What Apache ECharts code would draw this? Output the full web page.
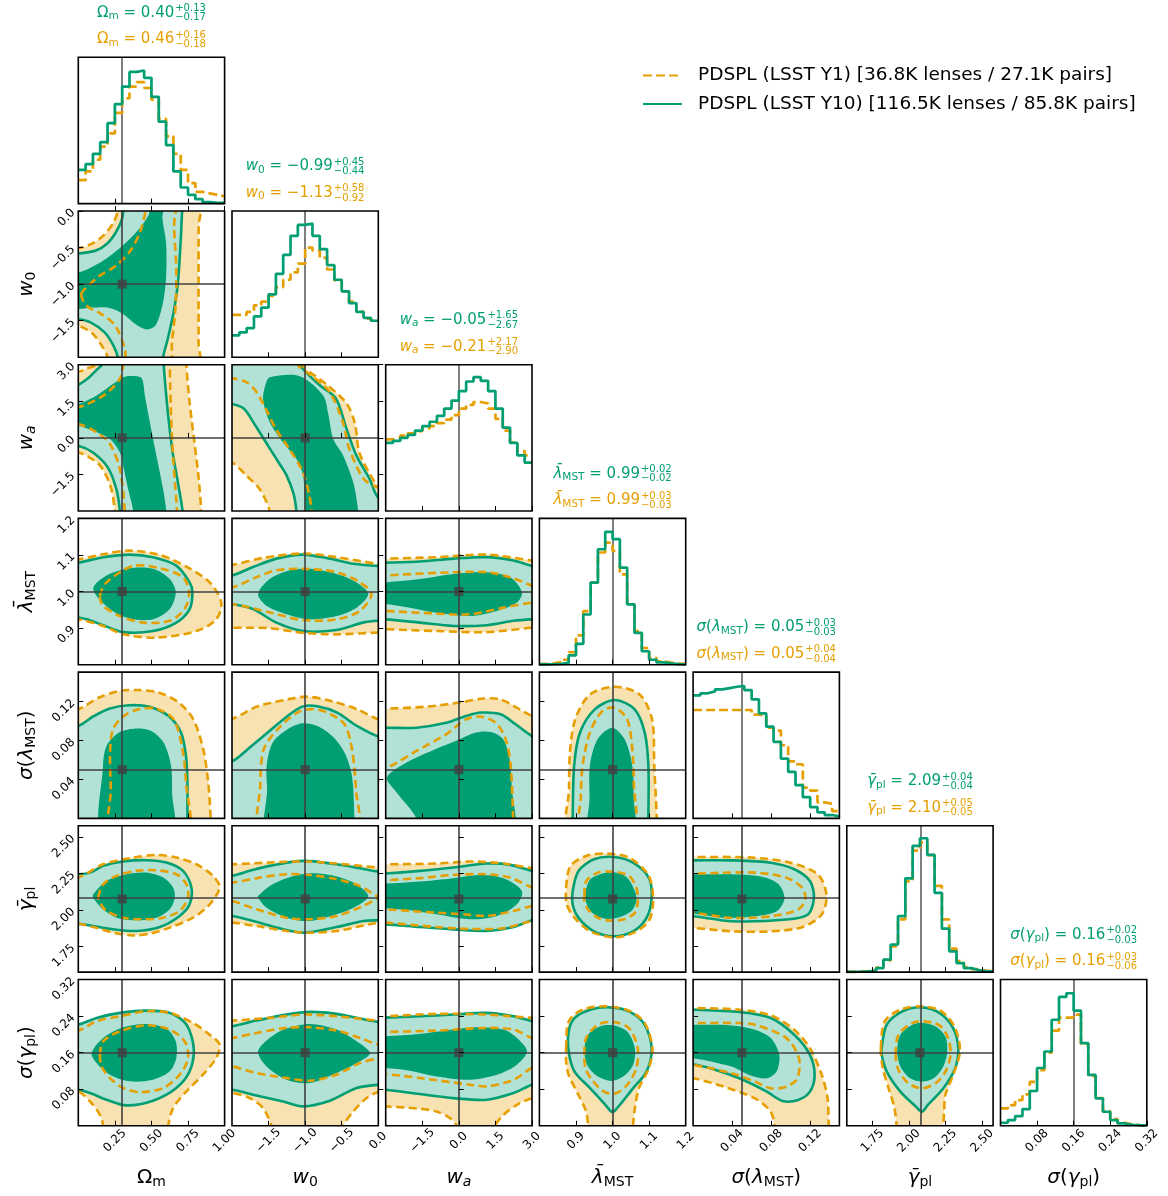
<!DOCTYPE html>
<html>
<head>
<meta charset="utf-8">
<script src="https://cdn.jsdelivr.net/npm/echarts@6/dist/echarts.min.js"></script>
<style>
  html, body { margin: 0; padding: 0; background: #fff; }
  #corner { width: 1168px; height: 1196px; }
</style>
</head>
<body>
<div id="corner"></div>
<script>
const FONT = '"DejaVu Sans", sans-serif';
const GREEN = '#009E73', ORANGE = '#E69F00';
const GREEN_LIGHT = '#B2E2D5', ORANGE_LIGHT = '#F8E2B2';
const TRUTH_COLOR = '#404040';
const LABEL_Y1 = 'PDSPL (LSST Y1) [36.8K lenses / 27.1K pairs]';
const LABEL_Y10 = 'PDSPL (LSST Y10) [116.5K lenses / 85.8K pairs]';

// parameters: Om, w0, wa, lambda_MST, sigma(lambda_MST), gamma_pl, sigma(gamma_pl)
const paramMin = [0, -2, -3, 0.8, 0, 1.575, 0];
const paramMax = [1, 0, 3, 1.2, 0.15, 2.575, 0.32];
const truthValues = [0.3, -1, 0, 1, 0.05, 2.075, 0.16];
const tickValues = [
  [0.25, 0.5, 0.75, 1.0],
  [-1.5, -1.0, -0.5, 0.0],
  [-1.5, 0, 1.5, 3.0],
  [0.9, 1.0, 1.1, 1.2],
  [0.04, 0.08, 0.12],
  [1.75, 2.0, 2.25, 2.5],
  [0.08, 0.16, 0.24, 0.32]
];
const tickDecimals = [2, 1, 1, 1, 2, 2, 2];
// label pieces: [text, style] ; n normal, i italic, s subscript, si italic subscript
const paramTokens = [
  [['Ω', 'n'], ['m', 's']],
  [['w', 'i'], ['0', 's']],
  [['w', 'i'], ['a', 'si']],
  [['λ\u0304', 'i'], ['MST', 's']],
  [['σ', 'i'], ['(', 'n'], ['λ', 'i'], ['MST', 's'], [')', 'n']],
  [['γ\u0304', 'i'], ['pl', 's']],
  [['σ', 'i'], ['(', 'n'], ['γ', 'i'], ['pl', 's'], [')', 'n']]
];
const titleY10 = [
  ['0.40', '+0.13', '−0.17'], ['−0.99', '+0.45', '−0.44'], ['−0.05', '+1.65', '−2.67'],
  ['0.99', '+0.02', '−0.02'], ['0.05', '+0.03', '−0.03'], ['2.09', '+0.04', '−0.04'],
  ['0.16', '+0.02', '−0.03']
];
const titleY1 = [
  ['0.46', '+0.16', '−0.18'], ['−1.13', '+0.58', '−0.92'], ['−0.21', '+2.17', '−2.90'],
  ['0.99', '+0.03', '−0.03'], ['0.05', '+0.04', '−0.04'], ['2.10', '+0.05', '−0.05'],
  ['0.16', '+0.03', '−0.06']
];

// 1D histograms (20 bins over the axis range), height as fraction of the panel
const histY10 = [
  [0.23, 0.27, 0.34, 0.42, 0.55, 0.68, 0.80, 0.90, 0.91, 0.86, 0.73, 0.56, 0.40, 0.22, 0.11, 0.06, 0.03, 0.01, 0.005, 0.005],
  [0.15, 0.17, 0.20, 0.28, 0.34, 0.43, 0.57, 0.70, 0.83, 0.905, 0.914, 0.83, 0.74, 0.63, 0.53, 0.45, 0.37, 0.31, 0.27, 0.25],
  [0.465, 0.48, 0.50, 0.52, 0.55, 0.58, 0.61, 0.65, 0.70, 0.755, 0.82, 0.885, 0.915, 0.89, 0.82, 0.70, 0.57, 0.465, 0.38, 0.33],
  [0.002, 0.003, 0.006, 0.012, 0.064, 0.142, 0.343, 0.561, 0.789, 0.908, 0.858, 0.664, 0.412, 0.217, 0.092, 0.034, 0.016, 0.009, 0.004, 0.002],
  [0.841, 0.855, 0.868, 0.882, 0.891, 0.90, 0.905, 0.877, 0.814, 0.718, 0.627, 0.523, 0.409, 0.318, 0.227, 0.145, 0.077, 0.041, 0.023, 0.014],
  [0.002, 0.003, 0.005, 0.009, 0.027, 0.085, 0.188, 0.382, 0.641, 0.863, 0.915, 0.801, 0.542, 0.297, 0.142, 0.062, 0.027, 0.014, 0.007, 0.004],
  [0.021, 0.039, 0.066, 0.114, 0.238, 0.395, 0.508, 0.725, 0.881, 0.906, 0.787, 0.565, 0.348, 0.188, 0.096, 0.039, 0.016, 0.007, 0.004, 0.002]
];
const histY1 = [
  [0.16, 0.22, 0.30, 0.39, 0.48, 0.62, 0.72, 0.80, 0.83, 0.79, 0.71, 0.58, 0.46, 0.34, 0.23, 0.14, 0.08, 0.07, 0.06, 0.05],
  [0.29, 0.29, 0.31, 0.355, 0.38, 0.42, 0.48, 0.53, 0.58, 0.64, 0.75, 0.73, 0.68, 0.60, 0.525, 0.45, 0.38, 0.31, 0.265, 0.25],
  [0.49, 0.50, 0.515, 0.53, 0.545, 0.565, 0.58, 0.60, 0.625, 0.655, 0.70, 0.725, 0.745, 0.735, 0.70, 0.63, 0.55, 0.47, 0.41, 0.38],
  [0.005, 0.009, 0.018, 0.034, 0.085, 0.20, 0.366, 0.561, 0.767, 0.835, 0.778, 0.618, 0.412, 0.229, 0.114, 0.046, 0.023, 0.014, 0.009, 0.005],
  [0.741, 0.741, 0.741, 0.741, 0.741, 0.741, 0.741, 0.741, 0.71, 0.70, 0.62, 0.60, 0.50, 0.39, 0.37, 0.21, 0.19, 0.11, 0.10, 0.05],
  [0.002, 0.004, 0.006, 0.012, 0.03, 0.08, 0.175, 0.36, 0.62, 0.83, 0.885, 0.80, 0.59, 0.36, 0.16, 0.075, 0.035, 0.02, 0.01, 0.006],
  [0.119, 0.142, 0.176, 0.215, 0.30, 0.38, 0.50, 0.65, 0.74, 0.74, 0.76, 0.56, 0.34, 0.19, 0.10, 0.045, 0.02, 0.01, 0.005, 0.003]
];

// 2D credible contours, in data units [x, y]
// g68/g95: Y10 68%/95%, o68/o95: Y1 68%/95%
const w0_Om = {
  o95: [[-0.1,-0.5],[0,-0.506],[0.1,-0.44],[0.18,-0.32],[0.24,-0.16],[0.27,0],[0.28,0.2],[0.83,0.2],[0.823,-0.2],[0.822,-1.0],[0.822,-1.8],[0.82,-2.2],[0.2,-2.2],[0.2,-2.0],[0.16,-1.84],[0.1,-1.68],[0.04,-1.6],[0,-1.57],[-0.1,-1.57]],
  g95: [[-0.1,-0.58],[0,-0.58],[0.12,-0.54],[0.2,-0.44],[0.26,-0.28],[0.30,-0.1],[0.31,0.1],[0.31,0.2],[0.72,0.2],[0.71,0],[0.70,-0.4],[0.68,-1.0],[0.65,-1.4],[0.61,-1.76],[0.58,-2.0],[0.58,-2.2],[0.27,-2.2],[0.27,-2.0],[0.24,-1.84],[0.18,-1.66],[0.08,-1.52],[0,-1.48],[-0.1,-1.48]],
  g68: [[-0.1,-0.8],[0,-0.84],[0.1,-0.76],[0.2,-0.64],[0.3,-0.48],[0.4,-0.28],[0.48,-0.06],[0.5,0.1],[0.58,0.1],[0.575,-0.1],[0.6,-0.44],[0.6,-0.9],[0.58,-1.24],[0.53,-1.56],[0.47,-1.62],[0.4,-1.56],[0.3,-1.4],[0.2,-1.32],[0.1,-1.32],[0,-1.34],[-0.1,-1.34]],
  o68: [[0.02,-1.14],[0.08,-1.0],[0.15,-0.88],[0.25,-0.76],[0.35,-0.56],[0.42,-0.3],[0.46,0],[0.47,0.2],[0.66,0.2],[0.655,-0.2],[0.67,-0.8],[0.665,-1.3],[0.64,-1.8],[0.62,-2.2],[0.33,-2.2],[0.32,-1.9],[0.25,-1.56],[0.15,-1.4],[0.06,-1.3]]
};
const wa_Om = {
  o95: [[-0.1,2.7],[0,2.7],[0.06,2.85],[0.12,3.0],[0.13,3.6],[0.74,3.6],[0.739,3.0],[0.76,1.5],[0.79,0],[0.82,-1.5],[0.84,-3.0],[0.84,-3.6],[0.25,-3.6],[0.25,-3.0],[0.22,-1.98],[0.15,-1.14],[0.07,-0.78],[0,-0.6],[-0.1,-0.58]],
  g95: [[-0.1,2.1],[0,2.18],[0.07,2.46],[0.12,2.76],[0.16,3.0],[0.17,3.6],[0.584,3.6],[0.584,3.0],[0.6,1.8],[0.62,0.6],[0.645,-0.6],[0.68,-1.8],[0.71,-2.88],[0.72,-3.6],[0.284,-3.6],[0.284,-3.0],[0.26,-2.1],[0.2,-1.2],[0.1,-0.6],[0,-0.32],[-0.1,-0.3]],
  g68: [[-0.1,1.38],[0,1.39],[0.125,1.74],[0.239,2.22],[0.307,2.49],[0.364,2.54],[0.432,2.45],[0.455,1.74],[0.489,0.64],[0.534,-0.73],[0.58,-2.11],[0.602,-3.0],[0.61,-3.6],[0.37,-3.6],[0.375,-3.0],[0.341,-2.11],[0.307,-1.15],[0.284,-0.6],[0.216,-0.05],[0.102,0.29],[0,0.5],[-0.1,0.54]],
  o68: [[-0.1,1.26],[0,1.25],[0.17,1.73],[0.284,2.42],[0.307,3.0],[0.31,3.6],[0.625,3.6],[0.625,3.0],[0.64,0],[0.675,-3.0],[0.68,-3.6],[0.32,-3.6],[0.318,-3.0],[0.284,-1.28],[0.216,-0.25],[0.125,0.23],[0,0.57],[-0.1,0.6]]
};
const wa_w0 = {
  o95: [[-2.2,3.6],[-1.04,3.6],[-1.04,3.0],[-0.72,2.22],[-0.44,1.44],[-0.32,0.6],[-0.26,-0.6],[-0.1,-1.56],[0,-1.98],[0.2,-2.3],[0.2,-3.6],[-1.484,-3.6],[-1.484,-3.0],[-1.62,-2.11],[-1.8,-1.56],[-2,-1.01],[-2.2,-0.95]],
  g95: [[-2.2,3.6],[-1.074,3.6],[-1.074,3.0],[-0.8,2.16],[-0.58,1.62],[-0.44,0.42],[-0.3,-0.72],[-0.12,-1.68],[0,-2.46],[0.2,-2.7],[0.2,-3.6],[-1.12,-3.6],[-1.12,-3.0],[-1.16,-2.28],[-1.26,-1.5],[-1.36,-1.02],[-1.5,-0.36],[-1.7,0.6],[-1.84,1.2],[-2,1.39],[-2.2,1.44]],
  g68: [[-1.484,2.49],[-1.074,2.53],[-0.754,1.74],[-0.684,0.98],[-0.616,-0.05],[-0.48,-0.73],[-0.342,-1.83],[-0.274,-3.0],[-0.27,-3.6],[-1.0,-3.6],[-1.004,-3.0],[-1.028,-1.56],[-1.118,-0.87],[-1.302,-0.19],[-1.484,0.64],[-1.576,1.6],[-1.53,2.29]],
  o68: [[-2.2,2.4],[-2,2.44],[-1.8,2.28],[-1.66,1.86],[-1.53,1.14],[-1.4,0.36],[-1.21,-0.48],[-1.028,-1.42],[-0.94,-2.4],[-0.912,-3.0],[-0.9,-3.6],[0.2,-3.6],[0.2,-2.1],[0,-2.04],[-0.2,-1.68],[-0.4,-0.42],[-0.48,0.6],[-0.66,1.86],[-0.9,2.52],[-1.1,3.0],[-1.1,3.6],[-2.2,3.6]]
};
const lam_Om = {
  o95: [[-0.1,1.088],[0,1.088],[0.17,1.102],[0.352,1.112],[0.557,1.1],[0.739,1.068],[0.898,1.025],[0.977,0.97],[0.943,0.924],[0.807,0.892],[0.534,0.874],[0.307,0.883],[0.17,0.906],[0,0.924],[-0.1,0.924]],
  g95: [[-0.1,1.078],[0,1.079],[0.17,1.094],[0.352,1.101],[0.511,1.094],[0.67,1.071],[0.761,1.025],[0.78,0.998],[0.761,0.952],[0.67,0.915],[0.511,0.892],[0.307,0.889],[0.17,0.908],[0.057,0.924],[0,0.929],[-0.1,0.93]],
  g68: [[0.102,1.007],[0.193,1.044],[0.352,1.064],[0.511,1.062],[0.625,1.034],[0.666,0.998],[0.625,0.952],[0.511,0.924],[0.352,0.926],[0.216,0.952]],
  o68: [[0.148,0.988],[0.193,1.025],[0.375,1.07],[0.557,1.064],[0.716,1.039],[0.757,0.998],[0.727,0.952],[0.625,0.92],[0.443,0.915],[0.284,0.933],[0.17,0.961]]
};
const lam_w0 = {
  o95: [[-2.2,1.073],[-2,1.073],[-1.576,1.092],[-1.028,1.104],[-0.57,1.094],[0,1.076],[0.2,1.076],[0.2,0.888],[0,0.888],[-0.57,0.883],[-1.028,0.887],[-1.5,0.9],[-2,0.901],[-2.2,0.901]],
  g95: [[-2.2,1.042],[-2,1.044],[-1.712,1.067],[-1.392,1.09],[-1.028,1.101],[-0.662,1.09],[-0.342,1.076],[0,1.07],[0.2,1.07],[0.2,0.92],[0,0.92],[-0.212,0.915],[-0.57,0.895],[-1.028,0.892],[-1.392,0.915],[-1.712,0.952],[-2,0.966],[-2.2,0.968]],
  g68: [[-1.644,0.993],[-1.484,1.034],[-1.21,1.058],[-0.936,1.062],[-0.57,1.048],[-0.296,1.025],[-0.136,0.993],[-0.296,0.956],[-0.57,0.933],[-0.936,0.924],[-1.256,0.938],[-1.53,0.961]],
  o68: [[-2.2,1.011],[-2,1.011],[-1.666,1.039],[-1.392,1.058],[-1.028,1.062],[-0.57,1.053],[-0.252,1.025],[-0.092,0.993],[-0.252,0.947],[-0.57,0.924],[-1.028,0.922],[-1.484,0.943],[-2,0.966],[-2.2,0.966]]
};
const lam_wa = {
  o95: [[-3.3,1.09],[-3,1.09],[-0.912,1.094],[1.146,1.101],[3,1.085],[3.3,1.085],[3.3,0.901],[3,0.901],[1.146,0.889],[-0.912,0.892],[-3,0.897],[-3.3,0.897]],
  g95: [[-3.3,1.079],[-3,1.079],[-1.6,1.082],[-0.228,1.09],[1.146,1.094],[2.244,1.085],[3,1.07],[3.3,1.07],[3.3,0.924],[3,0.924],[2.244,0.92],[1.146,0.908],[-0.228,0.906],[-1.6,0.915],[-3,0.924],[-3.3,0.924]],
  g68: [[-3.3,1.025],[-3,1.025],[-1.6,1.034],[-0.228,1.048],[1.146,1.053],[2.108,1.039],[2.588,0.998],[2.384,0.97],[1.56,0.947],[0.46,0.933],[-0.912,0.942],[-2.01,0.956],[-3,0.966],[-3.3,0.966]],
  o68: [[-3.3,1.044],[-3,1.044],[-0.912,1.051],[1.146,1.053],[2.244,1.036],[3,1.016],[3.3,1.01],[3.3,0.97],[3,0.97],[1.83,0.956],[0.46,0.938],[-1.6,0.942],[-3,0.947],[-3.3,0.947]]
};
const slam_Om = {
  o95: [[-0.1,0.112],[0,0.112],[0.142,0.124],[0.278,0.1306],[0.414,0.1316],[0.549,0.129],[0.685,0.119],[0.786,0.1016],[0.854,0.071],[0.888,0.037],[0.905,0],[0.91,-0.02],[-0.1,-0.02]],
  g95: [[-0.1,0.0945],[0,0.0948],[0.108,0.105],[0.21,0.1125],[0.346,0.116],[0.481,0.1146],[0.617,0.105],[0.702,0.088],[0.736,0.064],[0.746,0.037],[0.746,0],[0.75,-0.02],[-0.1,-0.02]],
  g68: [[0.169,-0.02],[0.169,0.054],[0.193,0.0743],[0.278,0.088],[0.38,0.092],[0.498,0.0897],[0.583,0.0777],[0.634,0.054],[0.641,0.027],[0.641,-0.02]],
  o68: [[0.227,-0.02],[0.222,0.03],[0.217,0.0675],[0.237,0.0914],[0.312,0.105],[0.414,0.112],[0.532,0.1125],[0.651,0.1016],[0.712,0.071],[0.736,0.037],[0.742,-0.02]]
};
const slam_w0 = {
  o95: [[-2.2,0.101],[-2,0.102],[-1.648,0.115],[-1.24,0.122],[-0.97,0.1248],[-0.63,0.12],[-0.292,0.112],[0,0.1016],[0.2,0.1],[0.2,-0.02],[-2.2,-0.02]],
  g95: [[-2.2,0.057],[-1.986,0.059],[-1.784,0.071],[-1.512,0.088],[-1.24,0.105],[-1.038,0.1146],[-0.834,0.115],[-0.562,0.1085],[-0.292,0.0948],[0,0.084],[0.2,0.083],[0.2,-0.02],[-2.2,-0.02]],
  g68: [[-1.512,-0.02],[-1.52,0.03],[-1.526,0.054],[-1.444,0.0777],[-1.24,0.0914],[-1.038,0.0975],[-0.834,0.0948],[-0.63,0.0845],[-0.462,0.0675],[-0.36,0.0436],[-0.326,0],[-0.326,-0.02]],
  o68: [[-1.6,-0.02],[-1.614,0.0334],[-1.566,0.071],[-1.376,0.0914],[-1.106,0.1085],[-0.902,0.112],[-0.698,0.1085],[-0.462,0.0965],[-0.36,0.071],[-0.306,0.03],[-0.3,-0.02]]
};
const slam_wa = {
  o95: [[-3.3,0.1125],[-3,0.1125],[-1.332,0.1146],[0.09,0.119],[0.906,0.1227],[1.716,0.122],[3,0.105],[3.3,0.105],[3.3,-0.02],[-3.3,-0.02]],
  g95: [[-3.3,0.093],[-3,0.093],[-1.74,0.093],[-0.516,0.098],[0.294,0.105],[0.906,0.1085],[1.716,0.1067],[2.328,0.0965],[3,0.0845],[3.3,0.084],[3.3,-0.02],[-3.3,-0.02]],
  g68: [[-2.95,0.042],[-2.148,0.0573],[-1.128,0.0692],[-0.114,0.0795],[0.702,0.088],[1.314,0.0886],[1.818,0.0811],[2.082,0.0607],[2.166,0.0334],[2.166,-0.02],[-1.7,-0.02],[-1.74,0],[-2.55,0.0266]],
  o68: [[-3.3,0.05],[-3,0.052],[-2.652,0.0555],[-1.74,0.0692],[-0.516,0.0862],[0.294,0.1016],[0.906,0.1043],[1.518,0.098],[1.92,0.0811],[2.124,0.054],[2.226,0],[2.23,-0.02],[-3.3,-0.02]]
};
const slam_lam = {
  o95: [[0.881,-0.02],[0.881,0.03],[0.884,0.07],[0.898,0.1016],[0.938,0.127],[1.006,0.135],[1.074,0.127],[1.108,0.1016],[1.114,0.054],[1.121,0],[1.121,-0.02]],
  g95: [[0.891,-0.02],[0.891,0],[0.895,0.054],[0.911,0.088],[0.952,0.112],[1.006,0.1214],[1.06,0.112],[1.088,0.088],[1.098,0.054],[1.098,0],[1.098,-0.02]],
  g68: [[0.936,-0.02],[0.937,0.02],[0.938,0.054],[0.959,0.0811],[0.999,0.093],[1.033,0.0811],[1.054,0.054],[1.058,0.02],[1.058,-0.02]],
  o68: [[0.911,-0.02],[0.913,0.02],[0.918,0.054],[0.938,0.088],[0.972,0.11],[1.006,0.1135],[1.04,0.1016],[1.054,0.071],[1.058,0.037],[1.056,-0.02]]
};
const gam_Om = {
  o95: [[-0.1,2.22],[0,2.221],[0.17,2.312],[0.352,2.354],[0.534,2.376],[0.67,2.358],[0.807,2.312],[0.92,2.233],[0.966,2.153],[0.898,2.038],[0.784,1.947],[0.625,1.879],[0.489,1.838],[0.375,1.826],[0.239,1.844],[0.102,1.883],[0,1.906],[-0.1,1.906]],
  g95: [[-0.1,2.244],[0,2.244],[0.08,2.255],[0.17,2.301],[0.307,2.331],[0.466,2.34],[0.602,2.324],[0.716,2.267],[0.773,2.153],[0.761,2.038],[0.693,1.959],[0.557,1.883],[0.398,1.856],[0.239,1.867],[0.102,1.89],[0,1.906],[-0.1,1.906]],
  g68: [[0.102,2.107],[0.193,2.198],[0.33,2.244],[0.466,2.255],[0.58,2.221],[0.648,2.153],[0.659,2.084],[0.625,2.004],[0.534,1.947],[0.398,1.929],[0.261,1.947],[0.17,2.004],[0.102,2.084]],
  o68: [[0.136,2.084],[0.17,2.175],[0.261,2.233],[0.398,2.267],[0.534,2.271],[0.67,2.244],[0.739,2.175],[0.75,2.084],[0.693,1.993],[0.58,1.947],[0.443,1.936],[0.307,1.947],[0.193,1.993],[0.148,2.05]]
};
const gam_w0 = {
  o95: [[-2.2,2.312],[-2,2.312],[-1.484,2.324],[-1.028,2.331],[-0.57,2.317],[0,2.29],[0.2,2.29],[0.2,1.913],[0,1.913],[-0.57,1.856],[-0.936,1.844],[-1.256,1.856],[-1.666,1.89],[-2,1.913],[-2.2,1.913]],
  g95: [[-2.2,2.233],[-2,2.233],[-1.758,2.267],[-1.484,2.301],[-1.028,2.335],[-0.57,2.312],[-0.252,2.285],[0,2.262],[0.2,2.26],[0.2,1.929],[0,1.929],[-0.206,1.924],[-0.57,1.883],[-1.028,1.844],[-1.392,1.879],[-1.712,1.924],[-2,1.959],[-2.2,1.96]],
  g68: [[-1.644,2.096],[-1.484,2.164],[-1.256,2.217],[-0.982,2.249],[-0.662,2.239],[-0.342,2.187],[-0.136,2.096],[-0.296,2.027],[-0.57,1.97],[-0.936,1.924],[-1.256,1.947],[-1.53,2.016],[-1.644,2.084]],
  o68: [[-2.2,2.187],[-2,2.187],[-1.62,2.221],[-1.256,2.244],[-0.936,2.239],[-0.57,2.21],[-0.252,2.164],[-0.022,2.096],[0.1,2.085],[-0.022,2.073],[-0.206,2.027],[-0.57,1.959],[-0.982,1.936],[-1.256,1.947],[-1.666,2.004],[-2,2.061],[-2.2,2.061]]
};
const gam_wa = {
  o95: [[-3.3,2.312],[-3,2.312],[-0.912,2.317],[0.462,2.331],[1.83,2.317],[3,2.285],[3.3,2.285],[3.3,1.924],[3,1.924],[1.83,1.875],[0.462,1.87],[-0.912,1.883],[-3,1.913],[-3.3,1.913]],
  g95: [[-3.3,2.249],[-3,2.249],[-1.6,2.267],[-0.228,2.29],[1.146,2.317],[2.108,2.308],[3,2.267],[3.3,2.267],[3.3,1.929],[3,1.929],[2.244,1.883],[1.146,1.856],[-0.228,1.867],[-1.6,1.883],[-3,1.901],[-3.3,1.901]],
  g68: [[-3.3,2.18],[-3,2.18],[-1.6,2.194],[-0.228,2.217],[0.87,2.239],[1.83,2.217],[2.586,2.13],[2.382,2.038],[1.56,1.959],[0.462,1.936],[-0.912,1.97],[-2.01,1.997],[-3,2.011],[-3.3,2.011]],
  o68: [[-3.3,2.203],[-3,2.203],[-1.6,2.217],[-0.228,2.239],[1.146,2.244],[2.108,2.221],[3,2.153],[3.3,2.14],[3.3,2.03],[3,2.027],[2.244,1.993],[1.146,1.959],[0.2,1.97],[-0.912,1.981],[-3,2.004],[-3.3,2.004]]
};
const gam_lam = {
  o95: [[0.873,2.152],[0.885,2.3],[0.928,2.369],[0.981,2.385],[1.045,2.358],[1.099,2.232],[1.111,2.06],[1.099,1.923],[1.056,1.843],[1.003,1.813],[0.939,1.854],[0.896,1.946],[0.875,2.037]],
  g95: [[0.891,2.129],[0.907,2.266],[0.949,2.346],[1.003,2.362],[1.056,2.323],[1.099,2.22],[1.107,2.083],[1.093,1.946],[1.056,1.854],[1.003,1.82],[0.949,1.854],[0.907,1.946],[0.891,2.037]],
  g68: [[0.926,2.117],[0.939,2.209],[0.971,2.248],[1.008,2.255],[1.04,2.22],[1.061,2.129],[1.065,2.06],[1.051,1.991],[1.013,1.946],[0.976,1.941],[0.944,1.98],[0.928,2.049]],
  o68: [[0.923,2.094],[0.928,2.197],[0.96,2.255],[1.003,2.261],[1.045,2.232],[1.065,2.152],[1.069,2.06],[1.061,1.98],[1.029,1.934],[0.992,1.927],[0.96,1.946],[0.933,2.003],[0.923,2.06]]
};
const gam_slam = {
  o95: [[-0.02,2.362],[0,2.362],[0.0595,2.358],[0.0997,2.323],[0.128,2.243],[0.1367,2.106],[0.1319,1.969],[0.1118,1.882],[0.0796,1.854],[0.0394,1.854],[0,1.877],[-0.02,1.877]],
  g95: [[-0.02,2.339],[0,2.339],[0.0394,2.339],[0.0796,2.323],[0.1038,2.278],[0.1198,2.197],[0.1239,2.083],[0.1178,1.969],[0.0957,1.934],[0.0394,1.923],[0,1.957],[-0.02,1.957]],
  g68: [[-0.02,2.243],[0,2.243],[0.0394,2.243],[0.0716,2.225],[0.0877,2.175],[0.0937,2.078],[0.0857,1.991],[0.0635,1.957],[0.0314,1.946],[0,1.973],[-0.02,1.973]],
  o68: [[-0.02,2.248],[0,2.248],[0.0635,2.255],[0.0957,2.22],[0.1118,2.152],[0.115,2.072],[0.1078,2.003],[0.0796,1.957],[0.0394,1.946],[0,1.98],[-0.02,1.98]]
};
const sgam_Om = {
  o95: [[-0.1,0.2082],[0,0.2082],[0.125,0.2287],[0.284,0.2396],[0.466,0.2506],[0.625,0.247],[0.784,0.225],[0.898,0.1994],[0.966,0.1775],[0.943,0.1483],[0.852,0.1118],[0.739,0.0753],[0.648,0.0387],[0.614,0],[0.61,-0.02],[0.17,-0.02],[0.17,0],[0.148,0.0241],[0.08,0.0533],[0,0.0753],[-0.1,0.0753]],
  g95: [[-0.1,0.2214],[0,0.2214],[0.125,0.236],[0.284,0.247],[0.466,0.252],[0.625,0.247],[0.739,0.2214],[0.789,0.1702],[0.761,0.1191],[0.67,0.0826],[0.511,0.0548],[0.33,0.0446],[0.193,0.057],[0.08,0.0716],[0,0.0789],[-0.1,0.0789]],
  g68: [[0.091,0.1593],[0.17,0.1921],[0.307,0.2155],[0.466,0.2228],[0.602,0.2126],[0.666,0.1848],[0.67,0.1483],[0.625,0.1191],[0.511,0.1008],[0.352,0.0972],[0.216,0.1118],[0.125,0.1374]],
  o68: [[0.148,0.1556],[0.17,0.1848],[0.284,0.2068],[0.466,0.2199],[0.625,0.2104],[0.727,0.1848],[0.75,0.1483],[0.693,0.1118],[0.58,0.0826],[0.42,0.0738],[0.307,0.0826],[0.216,0.1045],[0.159,0.13]]
};
const sgam_w0 = {
  o95: [[-2.2,0.2301],[-2,0.2301],[-1.484,0.236],[-1.027,0.2433],[-0.571,0.2396],[0,0.2301],[0.2,0.23],[0.2,0.0738],[0,0.0738],[-0.16,0.0606],[-0.342,0.0314],[-0.479,0],[-0.48,-0.02],[-1.46,-0.02],[-1.461,0],[-1.575,0.0387],[-1.758,0.0606],[-2,0.0716],[-2.2,0.0716]],
  g95: [[-2.2,0.2177],[-2,0.2177],[-1.667,0.2301],[-1.256,0.2433],[-0.936,0.2491],[-0.571,0.2448],[-0.251,0.2345],[0,0.2272],[0.2,0.227],[0.2,0.0899],[0,0.0899],[-0.297,0.0826],[-0.662,0.0548],[-1.027,0.0424],[-1.301,0.0533],[-1.667,0.0665],[-2,0.0789],[-2.2,0.0789]],
  g68: [[-1.644,0.1629],[-1.484,0.1921],[-1.256,0.2126],[-0.936,0.2228],[-0.571,0.2104],[-0.297,0.1848],[-0.114,0.1593],[-0.251,0.141],[-0.571,0.1154],[-0.936,0.0935],[-1.256,0.1008],[-1.53,0.13]],
  o68: [[-2.2,0.1921],[-2,0.1921],[-1.667,0.2031],[-1.256,0.2141],[-0.936,0.2155],[-0.571,0.2082],[-0.251,0.1921],[0,0.1775],[0.2,0.175],[0.2,0.147],[0,0.1469],[-0.251,0.1374],[-0.571,0.1118],[-0.936,0.0986],[-1.256,0.1045],[-1.667,0.1154],[-2,0.13],[-2.2,0.13]]
};
const sgam_wa = {
  o95: [[-3.3,0.2396],[-3,0.2396],[-0.913,0.2448],[1.146,0.2433],[3,0.236],[3.3,0.236],[3.3,0.0606],[3,0.0606],[2.382,0.046],[1.833,0.0241],[1.49,0],[1.49,-0.02],[-0.09,-0.02],[-0.089,0],[-0.364,0.0168],[-0.913,0.0314],[-1.6,0.0373],[-3,0.0424],[-3.3,0.0424]],
  g95: [[-3.3,0.2367],[-3,0.2367],[-1.6,0.2396],[-0.227,0.2433],[1.146,0.247],[2.245,0.2396],[3,0.2287],[3.3,0.228],[3.3,0.0899],[3,0.0899],[2.245,0.0716],[1.146,0.057],[-0.227,0.0606],[-1.6,0.0694],[-3,0.0789],[-3.3,0.0789]],
  g68: [[-3.3,0.1958],[-3,0.1958],[-1.6,0.2009],[-0.227,0.2104],[0.735,0.2155],[1.833,0.2104],[2.382,0.1921],[2.794,0.1629],[2.382,0.1337],[1.558,0.1118],[0.46,0.1008],[-0.913,0.1081],[-2.011,0.1206],[-3,0.1264],[-3.3,0.1264]],
  o68: [[-3.3,0.2053],[-3,0.2053],[-0.913,0.2082],[1.146,0.2141],[2.245,0.2104],[3,0.1921],[3.3,0.19],[3.3,0.1264],[3,0.1264],[2.245,0.1008],[1.146,0.0862],[0.46,0.0899],[-1.6,0.1045],[-3,0.1132],[-3.3,0.1132]]
};
const sgam_lam = {
  o95: [[0.873,0.1698],[0.88,0.2284],[0.917,0.254],[0.981,0.2613],[1.045,0.2518],[1.088,0.2247],[1.109,0.1698],[1.099,0.1259],[1.072,0.082],[1.061,0.0381],[1.056,0],[1.056,-0.02],[0.933,-0.02],[0.933,0],[0.928,0.0307],[0.907,0.0673],[0.88,0.1113],[0.873,0.1405]],
  g95: [[0.88,0.2064],[0.896,0.2357],[0.939,0.254],[0.992,0.2591],[1.045,0.2503],[1.088,0.2211],[1.107,0.1698],[1.093,0.1186],[1.056,0.082],[1.008,0.0344],[0.997,0.0307],[0.981,0.0454],[0.939,0.082],[0.896,0.1186],[0.88,0.1625]],
  g68: [[0.923,0.1625],[0.933,0.1991],[0.965,0.2174],[1.003,0.2196],[1.04,0.2064],[1.061,0.1698],[1.056,0.1332],[1.029,0.1076],[0.997,0.0981],[0.96,0.1076],[0.933,0.1296]],
  o68: [[0.923,0.1552],[0.928,0.1918],[0.96,0.2211],[1.003,0.2269],[1.045,0.2137],[1.069,0.1698],[1.065,0.1259],[1.04,0.0893],[1.008,0.071],[0.976,0.0747],[0.944,0.1003],[0.926,0.1259]]
};
const sgam_slam = {
  o95: [[-0.02,0.2577],[0,0.2577],[0.0474,0.254],[0.0796,0.2416],[0.1037,0.2101],[0.1198,0.1698],[0.1319,0.1113],[0.1379,0.06],[0.1391,0],[0.14,-0.02],[0.0836,-0.02],[0.0836,0],[0.0796,0.0307],[0.0635,0.06],[0.0314,0.0856],[0,0.1039],[-0.02,0.104]],
  g95: [[-0.02,0.254],[0,0.254],[0.0474,0.2489],[0.0796,0.2357],[0.1037,0.1991],[0.1198,0.1552],[0.1246,0.1113],[0.1198,0.0747],[0.1077,0.0564],[0.0917,0.0542],[0.0756,0.0747],[0.0474,0.1039],[0.0233,0.1222],[0,0.1347],[-0.02,0.135]],
  g68: [[-0.02,0.2211],[0,0.2211],[0.0394,0.2196],[0.0635,0.2101],[0.0796,0.1918],[0.0884,0.1552],[0.0856,0.1186],[0.0756,0.1039],[0.0575,0.1113],[0.0394,0.1296],[0,0.1479],[-0.02,0.148]],
  o68: [[-0.02,0.2247],[0,0.2247],[0.0474,0.2247],[0.0635,0.2211],[0.0957,0.1918],[0.1085,0.1479],[0.1069,0.1039],[0.0957,0.0856],[0.0796,0.082],[0.0635,0.0966],[0.0394,0.1149],[0,0.1332],[-0.02,0.134]]
};
const sgam_gam = {
  o95: [[1.808,0.1698],[1.834,0.2284],[1.941,0.254],[2.088,0.2613],[2.222,0.2503],[2.316,0.2137],[2.348,0.1625],[2.302,0.1113],[2.249,0.0673],[2.24,0.03],[2.235,0],[2.235,-0.02],[1.915,-0.02],[1.915,0],[1.901,0.0381],[1.861,0.082],[1.821,0.1259]],
  g95: [[1.813,0.1698],[1.848,0.2211],[1.955,0.2503],[2.088,0.2591],[2.209,0.2467],[2.302,0.2137],[2.337,0.1698],[2.316,0.1259],[2.235,0.082],[2.128,0.0454],[2.088,0.0307],[2.048,0.0417],[1.941,0.0747],[1.848,0.1186],[1.813,0.1552]],
  g68: [[1.92,0.1625],[1.941,0.1991],[2.022,0.2211],[2.088,0.2247],[2.182,0.2174],[2.249,0.1955],[2.262,0.1625],[2.235,0.1296],[2.169,0.1039],[2.088,0.0966],[2.008,0.1039],[1.941,0.1296]],
  o68: [[1.909,0.1552],[1.928,0.1991],[2.022,0.2247],[2.102,0.2284],[2.209,0.2196],[2.268,0.1918],[2.284,0.1552],[2.249,0.1186],[2.182,0.093],[2.088,0.082],[1.995,0.093],[1.928,0.1222]]
};
// [row, col, contours]
const contourPanels = [
  [1, 0, w0_Om],
  [2, 0, wa_Om], [2, 1, wa_w0],
  [3, 0, lam_Om], [3, 1, lam_w0], [3, 2, lam_wa],
  [4, 0, slam_Om], [4, 1, slam_w0], [4, 2, slam_wa], [4, 3, slam_lam],
  [5, 0, gam_Om], [5, 1, gam_w0], [5, 2, gam_wa], [5, 3, gam_lam], [5, 4, gam_slam],
  [6, 0, sgam_Om], [6, 1, sgam_w0], [6, 2, sgam_wa], [6, 3, sgam_lam], [6, 4, sgam_slam], [6, 5, sgam_gam]
];

// layout
const LEFT0 = 78.3, TOP0 = 57.3, PITCH = 153.7, SIZE = 146.3;

const chart = echarts.init(document.getElementById('corner'));

function fmtTick(v, i) {
  return v.toFixed(tickDecimals[i]).replace('-', '\u2212');
}
function richString(tokens) {
  return tokens.map(t => '{' + t[1] + '|' + t[0] + '}').join('');
}
const axisNameRich = {
  n: { fontSize: 20, fontFamily: FONT, color: '#000', lineHeight: 24 },
  i: { fontSize: 20, fontFamily: FONT, fontStyle: 'italic', color: '#000', lineHeight: 24 },
  s: { fontSize: 14, fontFamily: FONT, color: '#000', lineHeight: 14, verticalAlign: 'bottom' },
  si: { fontSize: 14, fontFamily: FONT, fontStyle: 'italic', color: '#000', lineHeight: 14, verticalAlign: 'bottom' }
};

const grids = [], xAxes = [], yAxes = [], series = [];
const gridOf = {};
for (let r = 0; r < 7; r++) {
  for (let c = 0; c <= r; c++) {
    const gi = grids.length;
    gridOf[r + '-' + c] = gi;
    grids.push({
      left: LEFT0 + c * PITCH, top: TOP0 + r * PITCH, width: SIZE, height: SIZE,
      show: true, borderColor: '#000', borderWidth: 1.6, backgroundColor: 'transparent',
      z: 10, outerBoundsMode: 'none'
    });
    xAxes.push({
      gridIndex: gi, type: 'value', min: paramMin[c], max: paramMax[c], z: 10,
      axisLine: { show: false }, splitLine: { show: false },
      axisTick: { show: true, inside: true, length: 5, customValues: tickValues[c], lineStyle: { color: '#000', width: 1 } },
      axisLabel: {
        show: r === 6, customValues: tickValues[c], rotate: 45, align: 'center', verticalAlign: 'middle',
        margin: 15, fontSize: 12, fontFamily: FONT, color: '#000', hideOverlap: false,
        formatter: v => fmtTick(v, c)
      },
      name: r === 6 ? richString(paramTokens[c]) : '', nameLocation: 'middle', nameGap: 40,
      nameTextStyle: { rich: axisNameRich }
    });
    if (r === c) {
      yAxes.push({ gridIndex: gi, type: 'value', min: 0, max: 1, show: false });
    } else {
      yAxes.push({
        gridIndex: gi, type: 'value', min: paramMin[r], max: paramMax[r], z: 10,
        axisLine: { show: false }, splitLine: { show: false },
        axisTick: { show: true, inside: true, length: 5, customValues: tickValues[r], lineStyle: { color: '#000', width: 1 } },
        axisLabel: {
          show: c === 0, customValues: tickValues[r], rotate: 45, margin: 5,
          fontSize: 12, fontFamily: FONT, color: '#000', hideOverlap: false,
          formatter: v => fmtTick(v, r)
        },
        name: c === 0 ? richString(paramTokens[r]) : '', nameLocation: 'middle', nameGap: 40,
        nameTextStyle: { rich: axisNameRich }
      });
    }
  }
}

function histData(i, vals) {
  const w = (paramMax[i] - paramMin[i]) / vals.length;
  const d = vals.map((v, k) => [paramMin[i] + k * w, v]);
  d.push([paramMax[i], vals[vals.length - 1]]);
  return d;
}

// diagonal histograms
for (let i = 0; i < 7; i++) {
  const gi = gridOf[i + '-' + i];
  series.push({
    name: LABEL_Y1, type: 'line', step: 'end', xAxisIndex: gi, yAxisIndex: gi,
    data: histData(i, histY1[i]), symbol: 'none', z: 2, silent: true,
    lineStyle: { color: ORANGE, width: 2.7, type: [9, 4] }, itemStyle: { color: ORANGE }
  });
  series.push({
    name: LABEL_Y10, type: 'line', step: 'end', xAxisIndex: gi, yAxisIndex: gi,
    data: histData(i, histY10[i]), symbol: 'none', z: 3, silent: true,
    lineStyle: { color: GREEN, width: 2.7 }, itemStyle: { color: GREEN },
    markLine: {
      silent: true, symbol: ['none', 'none'], label: { show: false }, z: 1,
      lineStyle: { color: '#555', width: 1.5, type: 'solid' },
      emphasis: { disabled: true },
      data: [{ xAxis: truthValues[i] }]
    }
  });
}

function contourSeries(gi, pts, fill, stroke, dashed, z) {
  return {
    type: 'custom', xAxisIndex: gi, yAxisIndex: gi, clip: true, silent: true, z: z,
    data: [pts[0]],
    renderItem: function (params, api) {
      return {
        type: 'polygon',
        shape: { points: pts.map(p => api.coord(p)), smooth: 0.3 },
        style: {
          fill: fill || 'none', stroke: stroke || 'none', lineWidth: 2.6,
          lineDash: dashed ? [8, 4.5] : null
        }
      };
    }
  };
}

contourPanels.forEach(([r, c, cs]) => {
  const gi = gridOf[r + '-' + c];
  series.push(contourSeries(gi, cs.o95, ORANGE_LIGHT, null, false, 1));
  series.push(contourSeries(gi, cs.g95, GREEN_LIGHT, null, false, 2));
  series.push(contourSeries(gi, cs.g68, GREEN, null, false, 3));
  series.push(contourSeries(gi, cs.g95, null, GREEN, false, 4));
  series.push(contourSeries(gi, cs.o95, null, ORANGE, true, 4));
  series.push(contourSeries(gi, cs.o68, null, ORANGE, true, 4));
  series.push({
    type: 'scatter', xAxisIndex: gi, yAxisIndex: gi, silent: true, z: 8,
    data: [[truthValues[c], truthValues[r]]], symbol: 'rect', symbolSize: 9,
    itemStyle: { color: TRUTH_COLOR },
    markLine: {
      silent: true, symbol: ['none', 'none'], label: { show: false }, z: 7,
      lineStyle: { color: TRUTH_COLOR, width: 1.6, type: 'solid' },
      emphasis: { disabled: true },
      data: [{ xAxis: truthValues[c] }, { yAxis: truthValues[r] }]
    }
  });
});

// titles above the diagonal panels
const measureCtx = document.createElement('canvas').getContext('2d');
const TITLE_SIZE = 15, TITLE_SUB = 10.5, SCRIPT_SIZE = 10;
function tokenFont(key) {
  const size = key[0] === 's' ? TITLE_SUB : TITLE_SIZE;
  const italic = key === 'i' || key === 'si';
  return (italic ? 'italic ' : '') + size + 'px "DejaVu Sans"';
}
function textW(str, font) {
  measureCtx.font = font;
  return measureCtx.measureText(str).width;
}
function titleRich(color) {
  return {
    n: { fontSize: TITLE_SIZE, fontFamily: FONT, fill: color, lineHeight: 18 },
    i: { fontSize: TITLE_SIZE, fontFamily: FONT, fontStyle: 'italic', fill: color, lineHeight: 18 },
    s: { fontSize: TITLE_SUB, fontFamily: FONT, fill: color, lineHeight: 11, verticalAlign: 'bottom' },
    si: { fontSize: TITLE_SUB, fontFamily: FONT, fontStyle: 'italic', fill: color, lineHeight: 11, verticalAlign: 'bottom' }
  };
}
const graphics = [];
function addTitle(i, vals, color, yc) {
  const tokens = paramTokens[i].concat([[' = ' + vals[0], 'n']]);
  const mainW = tokens.reduce((s, t) => s + textW(t[0], tokenFont(t[1])), 0);
  const scriptFont = SCRIPT_SIZE + 'px "DejaVu Sans"';
  const scrW = Math.max(textW(vals[1], scriptFont), textW(vals[2], scriptFont));
  const total = mainW + 1 + scrW;
  const cx = LEFT0 + i * PITCH + SIZE / 2;
  const x0 = cx - total / 2;
  graphics.push({
    type: 'text', silent: true, z: 20,
    style: { text: richString(tokens), rich: titleRich(color), x: x0, y: yc, align: 'left', verticalAlign: 'middle', fill: color }
  });
  graphics.push({
    type: 'text', silent: true, z: 20,
    style: { text: vals[1], x: x0 + mainW + 1, y: yc - 4.3, align: 'left', verticalAlign: 'middle', font: scriptFont, fill: color }
  });
  graphics.push({
    type: 'text', silent: true, z: 20,
    style: { text: vals[2], x: x0 + mainW + 1, y: yc + 5, align: 'left', verticalAlign: 'middle', font: scriptFont, fill: color }
  });
}
for (let i = 0; i < 7; i++) {
  const top = TOP0 + i * PITCH;
  addTitle(i, titleY10[i], GREEN, top - 44.5);
  addTitle(i, titleY1[i], ORANGE, top - 18);
}

chart.setOption({
  animation: false,
  backgroundColor: '#fff',
  textStyle: { fontFamily: FONT },
  grid: grids,
  xAxis: xAxes,
  yAxis: yAxes,
  legend: {
    left: 642, top: 66, padding: 0, orient: 'vertical', itemGap: 9.5, itemWidth: 39, itemHeight: 14,
    selectedMode: false,
    itemStyle: { opacity: 0 },
    textStyle: { fontFamily: FONT, fontSize: 18.5, color: '#000', padding: [0, 0, 0, 11] },
    data: [LABEL_Y1, LABEL_Y10]
  },
  graphic: graphics,
  series: series
});
</script>
</body>
</html>
